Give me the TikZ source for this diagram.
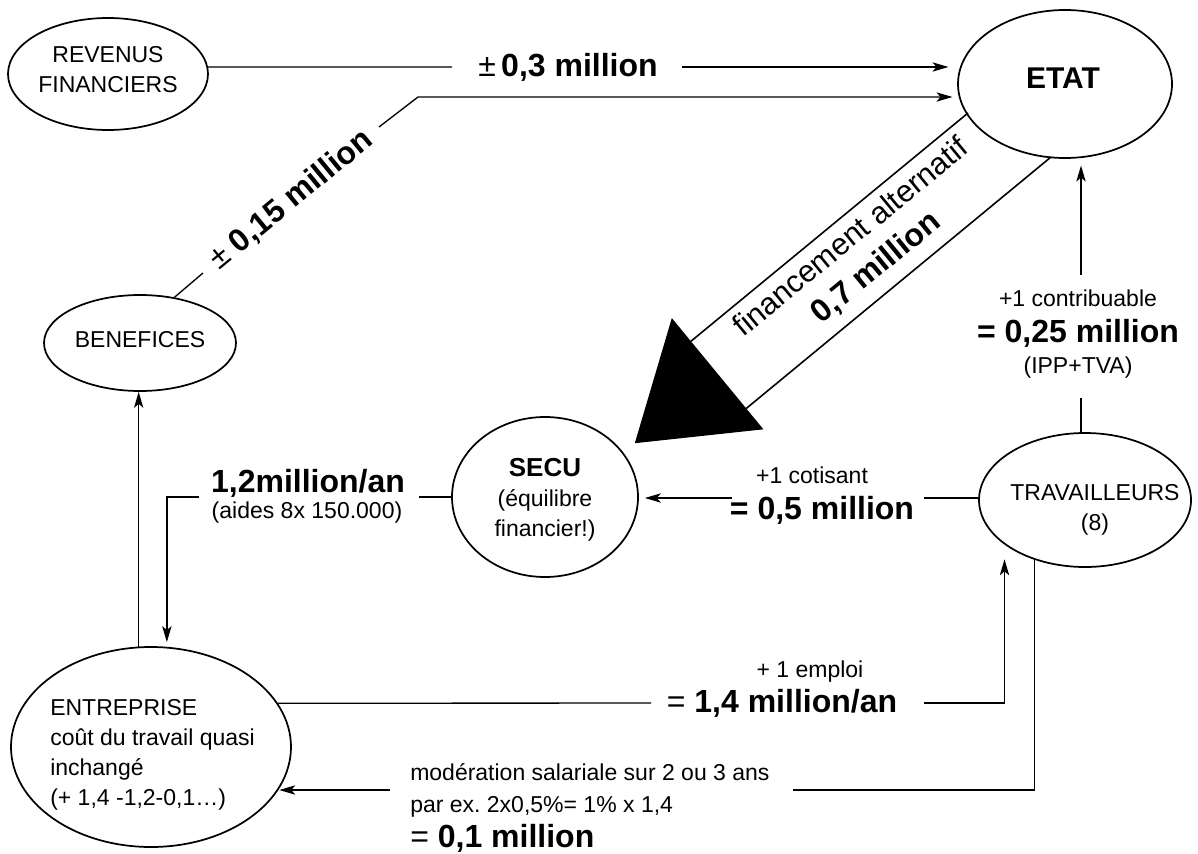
\documentclass[tikz,border=0pt]{standalone}
\usepackage{fontspec}
\setmainfont{Liberation Sans}
\usetikzlibrary{shapes.geometric,arrows.meta}
\frenchspacing
\begin{document}
\begin{tikzpicture}[x=0.75pt,y=-0.75pt,
  ell/.style={draw, ellipse, line width=1.3pt, inner sep=0pt},
  conn/.style={line width=1pt},
  arr/.style={conn, -{Stealth[length=12pt,width=7pt,inset=3pt]}},
  txt/.style={inner sep=0pt, font=\fontsize{17.25}{22.5}\selectfont, align=center},
  big/.style={inner sep=0pt, font=\fontsize{24}{28}\selectfont\bfseries},
]
\useasboundingbox[fill=white] (0,0) rectangle (1198,853);

% ellipses
\node[ell, minimum width=150pt, minimum height=84pt] (rev) at (108,74) {};
\node[ell, minimum width=160.5pt, minimum height=111pt] (etat) at (1065,84) {};
\node[ell, minimum width=144pt, minimum height=72pt] (ben) at (140,343) {};
\node[ell, minimum width=139.5pt, minimum height=120pt] (secu) at (545,497) {};
\node[ell, minimum width=159pt, minimum height=100.5pt] (trav) at (1085,500) {};
\node[ell, minimum width=210pt, minimum height=150pt] (entr) at (151,747) {};

% ellipse texts
\node[txt] (revt) at (108,70) {REVENUS\\FINANCIERS};
\node[inner sep=0pt, font=\fontsize{22.5}{26}\selectfont\bfseries] (etatt) at (1063,78) {ETAT};
\node[txt] (bent) at (140,340) {BENEFICES};
\node[txt] (secut) at (545,500) {{\fontsize{19.5}{22}\selectfont\bfseries SECU}\\(équilibre\\financier!)};
\node[txt] (travt) at (1095,510) {TRAVAILLEURS\\(8)};
\node[txt, align=left, anchor=west] (entrt) at (50,755) {ENTREPRISE\\coût du travail quasi\\inchangé\\(+ 1,4 -1,2-0,1…)};

% labels
\node[big] (l03) at (568,67) {{\mdseries ±}\,0,3 million};
\node[big, rotate=39.5] (l015) at (291,200) {{\mdseries ±} 0,15 million};
\node[inner sep=0pt, align=center, rotate=39.5,
      font=\fontsize{23}{29.5}\selectfont] (lfin) at (863.8,253.2)
      {financement alternatif\\{\fontsize{24}{29.5}\selectfont\bfseries 0,7 million}};
\node[txt] (lcon) at (1078,298) {+1 contribuable};
\node[big] (l025) at (1078,333) {= 0,25 million};
\node[txt] (lipp) at (1078,368) {(IPP+TVA)};
\node[txt] (lcot) at (812,475) {+1 cotisant};
\node[big] (l05) at (822,510) {= 0,5 million};
\node[big] (l12) at (308,483) {1,2million/an};
\node[txt] (laid) at (307,513) {(aides 8x 150.000)};
\node[txt] (lemp) at (810,672) {+ 1 emploi};
\node[big] (l14) at (782,703) {{\mdseries =} 1,4 million/an};
\node[txt, anchor=west] (lmod1) at (410,772) {modération salariale sur 2 ou 3 ans};
\node[txt, anchor=west] (lmod2) at (410,807) {par ex. 2x0,5\%= 1\% x 1,4};
\node[big, anchor=west] (lmod3) at (410,838) {{\mdseries =} 0,1 million};

% free ends
\coordinate (a1) at (452,67);
\coordinate (a2) at (682,67);
\coordinate (b1) at (203,273);
\coordinate (b2) at (379,127);
\coordinate (k1) at (418,97);
\coordinate (c1) at (1081,398);
\coordinate (c2) at (1081,275);
\coordinate (d1) at (924,498);
\coordinate (d2) at (732,498);
\coordinate (e1) at (419,497);
\coordinate (e2) at (199,497);
\coordinate (f1) at (651,703);
\coordinate (f2) at (924,703);
\coordinate (m1) at (793,790);
\coordinate (m2) at (390,790);

% connectors
\draw[conn] (rev.4) -- (a1);
\draw[arr, shorten >=6.5pt] (a2) -- (a2 -| etat.west);
\draw[conn] (ben.53) -- (b1);
\draw[arr, shorten >=3.5pt] (b2) -- (k1) -- (k1 -| etat.west);
\draw[conn] (c1 |- trav.north) -- (c1);
\draw[arr, shorten >=5pt] (c2) -- (c2 |- etat.south);
\draw[conn] (d1 -| trav.west) -- (d1);
\draw[arr, shorten >=4.5pt] (d2) -- (d2 -| secu.east);
\draw[conn] (secu.west) -- (e1);
\draw[arr, shorten >=3.5pt] (e2) -| (entr.81.4);
\draw[arr] (entr.97.4) -- (entr.97.4 |- ben.south);
\draw[conn] (entr.19.5) -- (f1);
\draw[arr, shorten >=11pt] (f2) -| (trav.209.5);
\draw[conn] (trav.230.5) |- (m1);
\draw[arr] (m2) -- (m2 -| entr.-18.5);

% thick arrow ETAT -> SECU
\coordinate (g1) at (968,113);
\coordinate (g2) at (690.9,341.3);
\coordinate (h1) at (1051,157);
\coordinate (h2) at (746.2,408.5);
\coordinate (p1) at (671.8,318.1);
\coordinate (p2) at (763.4,429.3);
\coordinate (p3) at (634.8,443.2);
\draw[line width=1.2pt] (g1) -- (g2);
\draw[line width=1.2pt] (h1) -- (h2);
\fill (p1) -- (p2) -- (p3) -- cycle;
\end{tikzpicture}
\end{document}
